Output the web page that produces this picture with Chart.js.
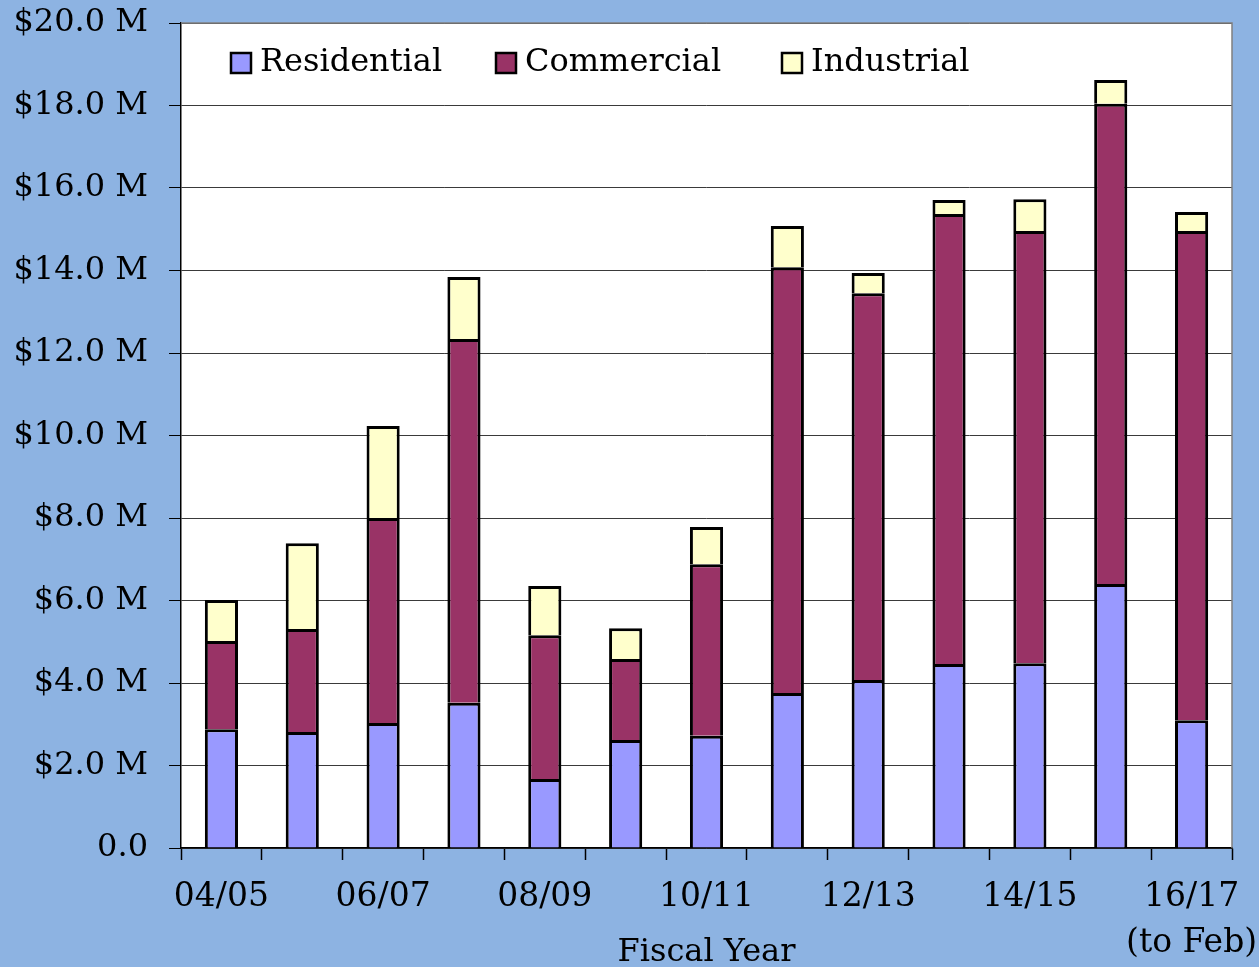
<!DOCTYPE html>
<html>
<head>
<meta charset="utf-8">
<script src="https://cdn.jsdelivr.net/npm/chart.js@4.4.1/dist/chart.umd.min.js"></script>
<style>
  html, body { margin: 0; padding: 0; background: #8db3e2; }
  #wrap { width: 1259px; height: 967px; }
</style>
</head>
<body>
<div id="wrap"><canvas id="chart" width="1259" height="967"></canvas></div>
<script>
// fiscal years, values in $ millions
const years = ['04/05', '05/06', '06/07', '07/08', '08/09', '09/10', '10/11',
  '11/12', '12/13', '13/14', '14/15', '15/16', ['16/17', '(to Feb)']];
const residential = [2.88, 2.81, 3.03, 3.52, 1.67, 2.62, 2.72, 3.76, 4.07, 4.46, 4.48, 6.40, 3.10];
const commercial = [2.14, 2.50, 4.97, 8.82, 3.49, 1.96, 4.16, 10.32, 9.38, 10.91, 10.48, 11.64, 11.86];
const industrial = [0.99, 2.08, 2.23, 1.50, 1.19, 0.75, 0.90, 1.00, 0.49, 0.34, 0.77, 0.58, 0.46];
const yTicks = [0, 2, 4, 6, 8, 10, 12, 14, 16, 18, 20];

const FONT = '"DejaVu Serif", "Liberation Serif", serif';

// white plot area + thin frame
const plotBg = {
  id: 'plotBg',
  beforeDraw(chart) {
    const { ctx, chartArea: a } = chart;
    ctx.save();
    ctx.fillStyle = '#ffffff';
    ctx.fillRect(a.left, a.top, a.right - a.left, a.bottom - a.top);
    ctx.restore();
  },
  afterDraw(chart) {
    const { ctx, chartArea: a } = chart;
    ctx.save();
    ctx.strokeStyle = '#808080';
    ctx.lineWidth = 1.5;
    ctx.beginPath();
    ctx.moveTo(a.left, a.top);
    ctx.lineTo(a.right, a.top);
    ctx.lineTo(a.right, a.bottom);
    ctx.stroke();
    ctx.restore();
  }
};

// legend drawn inside the plot, top left
const innerLegend = {
  id: 'innerLegend',
  afterDraw(chart) {
    const { ctx, chartArea: a } = chart;
    const xs = [50, 315, 601];
    ctx.save();
    ctx.font = '32px ' + FONT;
    ctx.textBaseline = 'middle';
    chart.data.datasets.forEach((ds, i) => {
      const x = a.left + xs[i];
      const y = a.top + 40;
      ctx.fillStyle = ds.backgroundColor;
      ctx.fillRect(x, y - 10, 20, 20);
      ctx.strokeStyle = '#000';
      ctx.lineWidth = 2.5;
      ctx.strokeRect(x, y - 10, 20, 20);
      ctx.fillStyle = '#000';
      ctx.fillText(ds.label, x + 29, y);
    });
    ctx.restore();
  }
};

const barStyle = {
  borderColor: '#000', borderWidth: 3,
  barPercentage: 0.41, categoryPercentage: 1
};

new Chart(document.getElementById('chart'), {
  type: 'bar',
  data: {
    labels: years,
    datasets: [
      { label: 'Residential', data: residential, backgroundColor: '#9999ff', ...barStyle },
      { label: 'Commercial', data: commercial, backgroundColor: '#993366', ...barStyle },
      { label: 'Industrial', data: industrial, backgroundColor: '#ffffcc', ...barStyle }
    ]
  },
  options: {
    responsive: false,
    animation: false,
    layout: { padding: { top: 23, right: 27, left: 0, bottom: 0 } },
    plugins: {
      legend: { display: false },
      tooltip: { enabled: false }
    },
    scales: {
      x: {
        stacked: true,
        grid: { offset: true, drawOnChartArea: false, drawTicks: true, tickLength: 12, tickColor: '#000', tickWidth: 1.5 },
        border: { color: '#000', width: 1.5 },
        ticks: {
          autoSkip: false,
          maxRotation: 0,
          padding: 14,
          color: '#000',
          font: { family: FONT, size: 33, lineHeight: 1.4 },
          callback: function (v, i) { return i % 2 === 0 ? this.getLabelForValue(v) : ''; }
        },
        title: {
          display: true,
          text: 'Fiscal Year',
          color: '#000',
          font: { family: FONT, size: 32 },
          padding: { top: 0, bottom: -5 }
        },
        afterFit(scale) { scale.height = 119; scale.paddingLeft = 0; scale.paddingRight = 0; }
      },
      y: {
        stacked: true,
        min: 0,
        max: 20,
        afterBuildTicks(scale) { scale.ticks = yTicks.map(v => ({ value: v })); },
        grid: { color: '#3a3a3a', lineWidth: 1, drawTicks: true, tickLength: 12, tickColor: '#000' },
        border: { color: '#000', width: 1.5 },
        ticks: {
          padding: 21,
          color: '#000',
          font: { family: FONT, size: 32 },
          callback: v => v === 0 ? '0.0' : '$' + v.toFixed(1) + ' M'
        },
        afterFit(scale) { scale.width = 181; scale.paddingTop = 0; scale.paddingBottom = 0; }
      }
    }
  },
  plugins: [plotBg, innerLegend]
});
</script>
</body>
</html>
